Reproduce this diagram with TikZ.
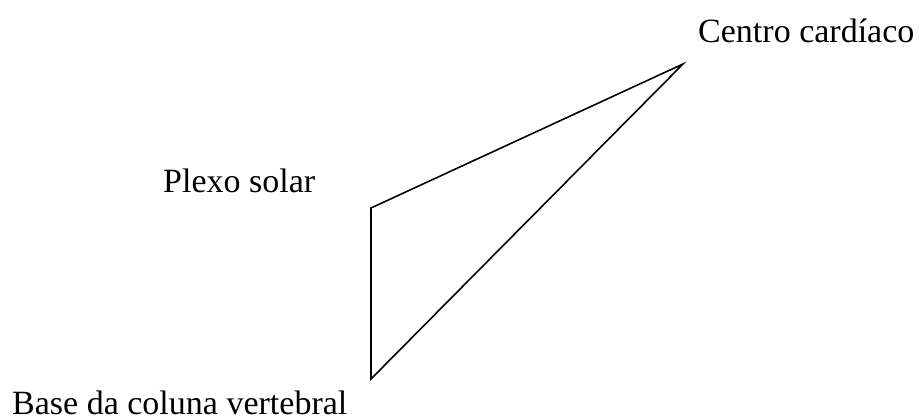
\documentclass[tikz,border=0pt]{standalone}
\usepackage{fontspec}
\setmainfont{Liberation Serif}
\begin{document}
\begin{tikzpicture}[x=1pt,y=-1pt,
  lbl/.style={anchor=base west,inner sep=0pt,text depth=0pt,font=\fontsize{34}{40}\selectfont},
  edge/.style={draw=black,line width=1.6pt,line join=miter}]
\useasboundingbox (0,0) rectangle (921,419);
\node[lbl] (tc) at (698,43) {Centro cardíaco};
\node[lbl] (tp) at (163,193) {Plexo solar};
\node[lbl] (tb) at (12,414) {Base da coluna vertebral};
\coordinate (cc) at (683,64);
\coordinate (ps) at (371,208);
\coordinate (bc) at (371,379);
\draw[edge] (ps) -- (cc) -- (bc) -- cycle;
\end{tikzpicture}
\end{document}
